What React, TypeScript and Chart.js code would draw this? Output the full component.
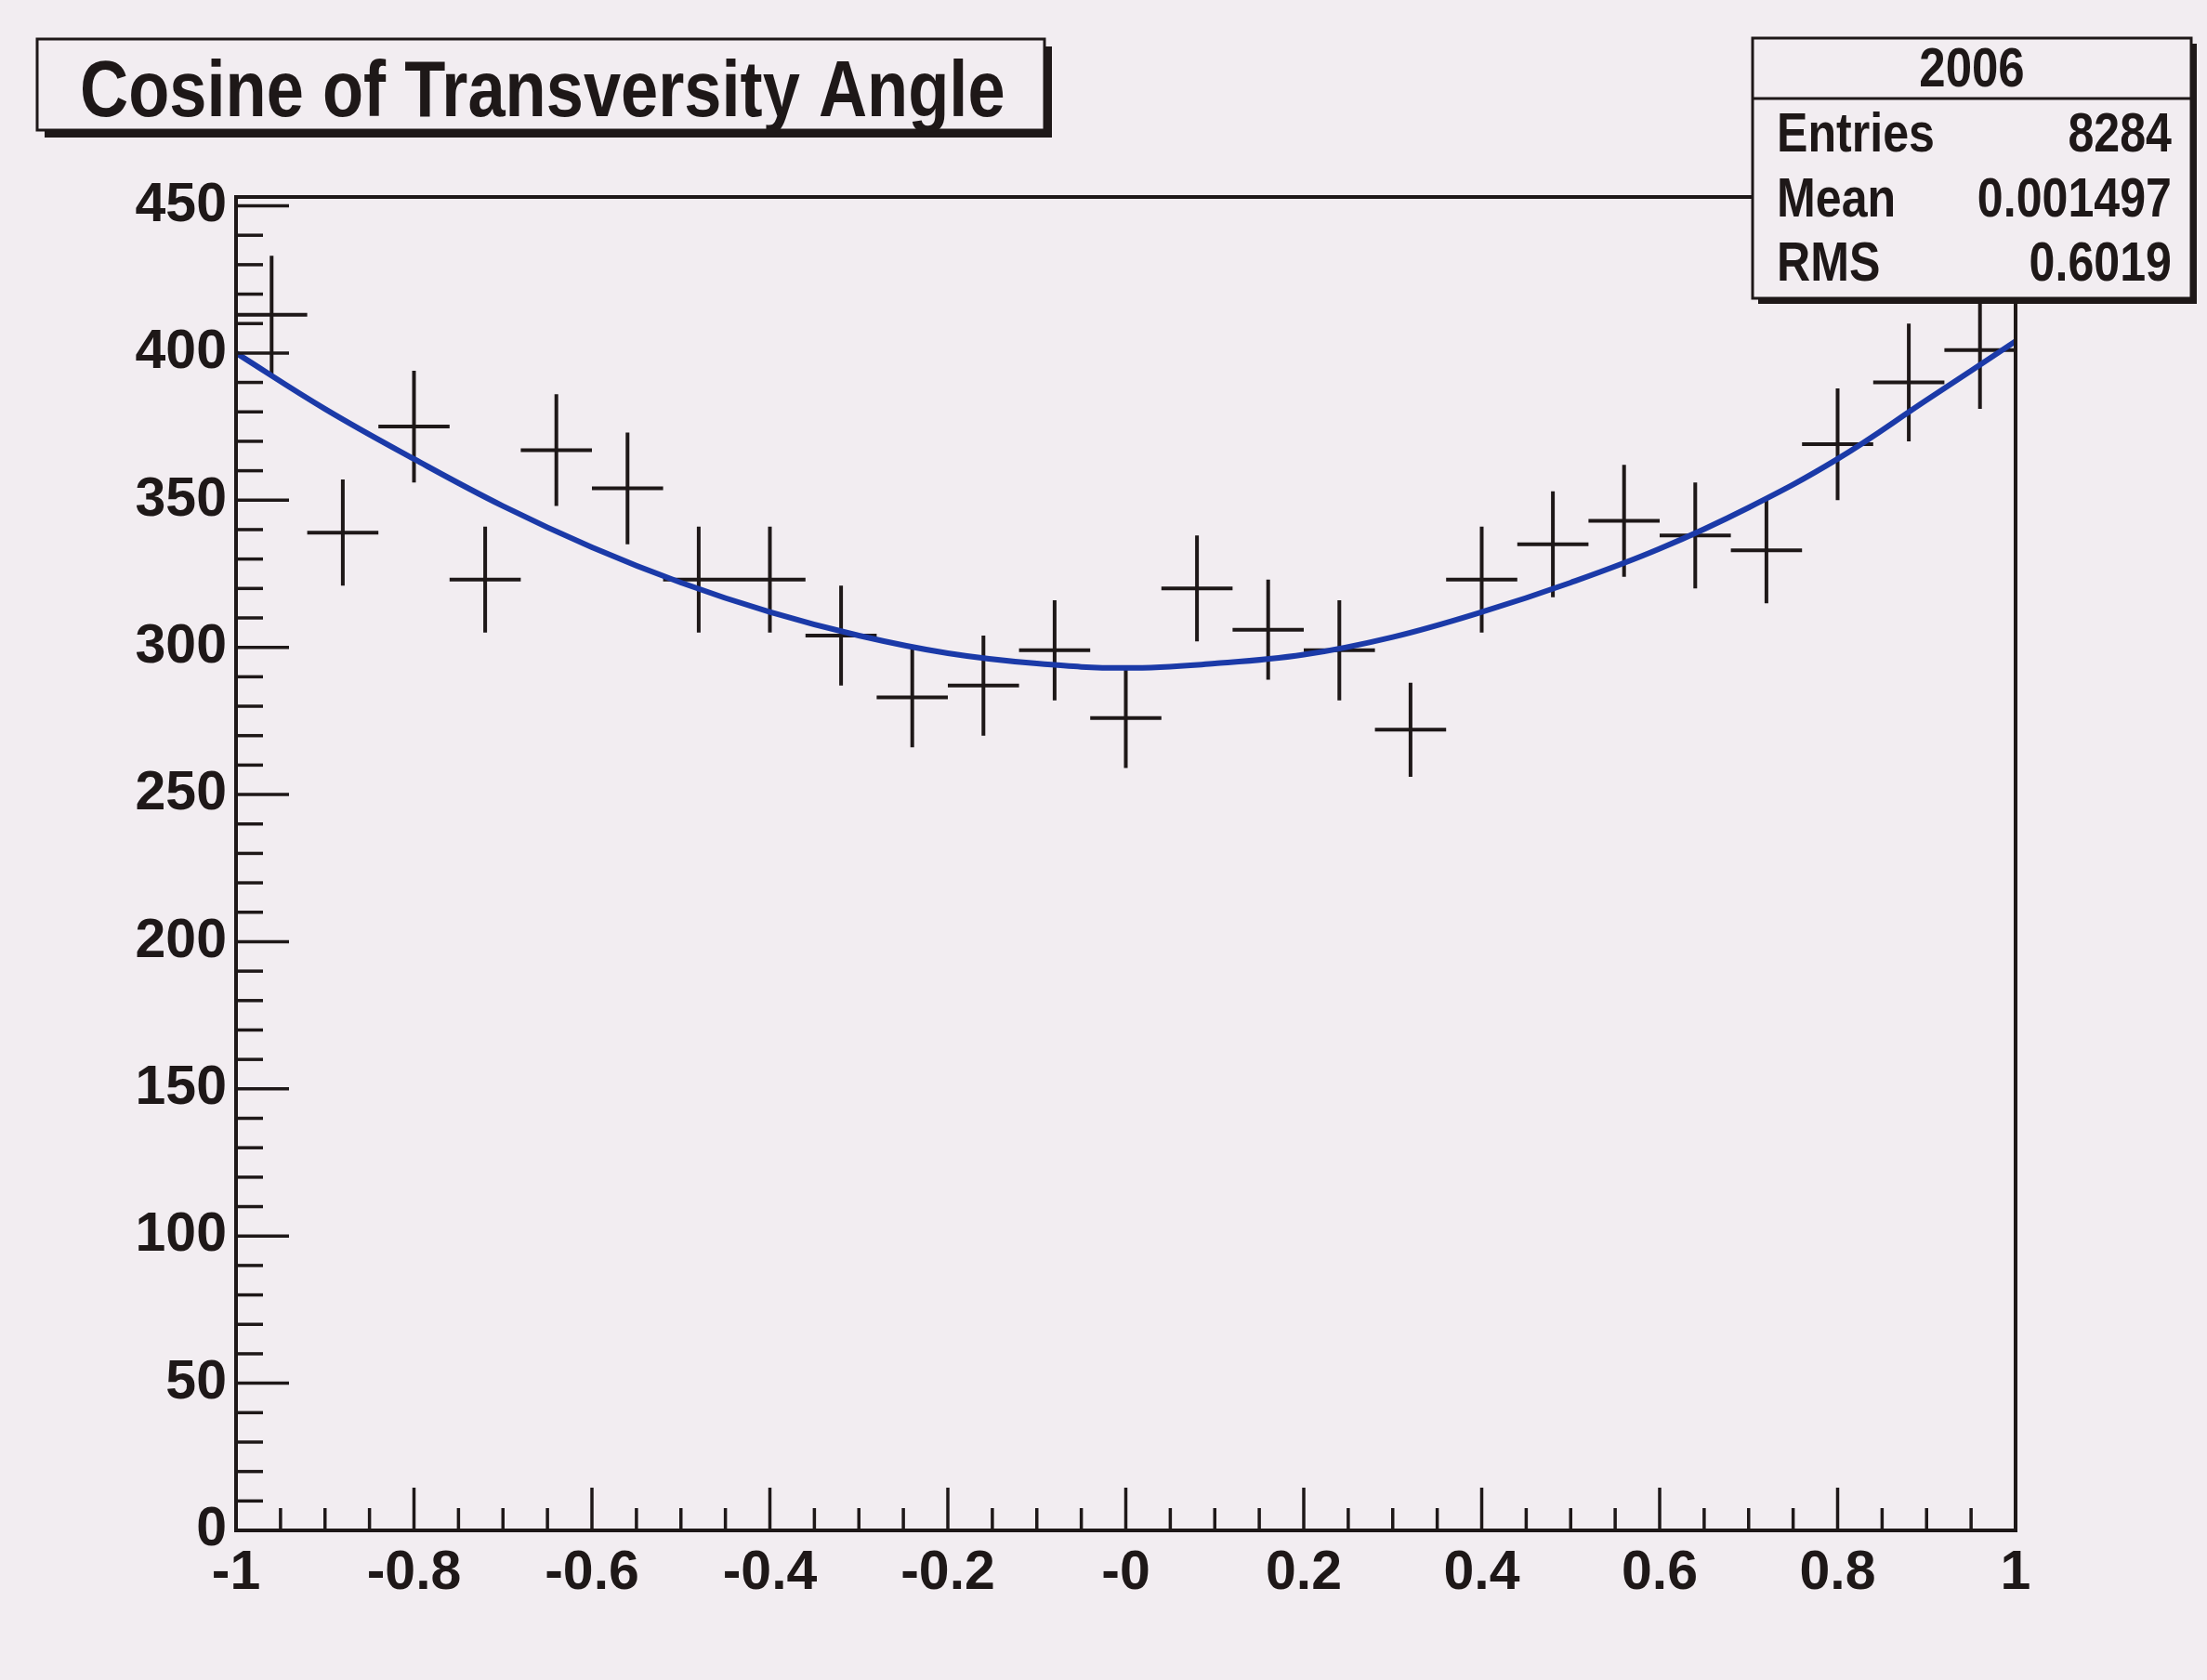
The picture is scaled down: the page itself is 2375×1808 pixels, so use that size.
import React, { useEffect, useRef } from 'react';
import { Chart, registerables } from 'chart.js';

Chart.register(...registerables);

// ---- data ----
const binCenters = [-0.96, -0.88, -0.8, -0.72, -0.64, -0.56, -0.48, -0.4, -0.32, -0.24, -0.16, -0.08, 0, 0.08, 0.16, 0.24, 0.32, 0.4, 0.48, 0.56, 0.64, 0.72, 0.8, 0.88, 0.96];
const binCounts = [413, 339, 375, 323, 367, 354, 323, 323, 304, 283, 287, 299, 276, 320, 306, 299, 272, 323, 335, 343, 338, 333, 369, 390, 401];
const binErrors = [20, 18, 19, 18, 19, 19, 18, 18, 17, 17, 17, 17, 17, 18, 17, 17, 16, 18, 18, 19, 18, 18, 19, 20, 20];
const binHalfWidth = 0.04;

const fitX = [-1, -0.9, -0.8, -0.7, -0.6, -0.5, -0.4, -0.3, -0.2, -0.1, 0, 0.1, 0.2, 0.3, 0.4, 0.5, 0.6, 0.7, 0.8, 0.9, 1];
const fitY = [400, 381, 364, 348, 334, 322, 312, 304, 298, 294.5, 293, 294.5, 297.5, 303.5, 312, 322, 333.5, 347.5, 364, 384, 404];

const xTickLabels = ['-1', '-0.8', '-0.6', '-0.4', '-0.2', '-0', '0.2', '0.4', '0.6', '0.8', '1'];
const yTickLabels = ['0', '50', '100', '150', '200', '250', '300', '350', '400', '450'];

const titleText = 'Cosine of Transversity Angle';
const statsTitle = '2006';
const statsNames = ['Entries', 'Mean', 'RMS'];
const statsValues = ['8284', '0.001497', '0.6019'];

// ---- styles ----
const BG = '#f2edf1';
const INK = '#1e1818';
const FIT = '#1b3aa8';
const FONT = '"Liberation Sans", Arial, sans-serif';

function condensedText(ctx: CanvasRenderingContext2D, text: string, x: number, y: number, size: number, align: 'left' | 'right' | 'center', sx: number) {
  ctx.save();
  ctx.font = `bold ${size}px ${FONT}`;
  ctx.textBaseline = 'middle';
  ctx.fillStyle = INK;
  const w = ctx.measureText(text).width * sx;
  let left = x;
  if (align === 'right') left = x - w;
  if (align === 'center') left = x - w / 2;
  ctx.translate(left, y);
  ctx.scale(sx, 1);
  ctx.textAlign = 'left';
  ctx.fillText(text, 0, 0);
  ctx.restore();
}

function paveBox(ctx: CanvasRenderingContext2D, x: number, y: number, w: number, h: number, shadow: number) {
  ctx.save();
  ctx.fillStyle = INK;
  ctx.fillRect(x + shadow, y + shadow, w, h);
  ctx.fillStyle = BG;
  ctx.fillRect(x, y, w, h);
  ctx.strokeStyle = INK;
  ctx.lineWidth = 3;
  ctx.strokeRect(x, y, w, h);
  ctx.restore();
}

const rootDecor = {
  id: 'rootDecor',
  beforeDraw(chart: any) {
    const { ctx, width, height } = chart;
    ctx.save();
    ctx.fillStyle = BG;
    ctx.fillRect(0, 0, width, height);
    ctx.restore();
  },
  afterDraw(chart: any) {
    const { ctx, chartArea: a, scales } = chart;
    const xs = scales.x;
    const ys = scales.y;
    ctx.save();
    ctx.strokeStyle = INK;
    ctx.lineWidth = 3.5;
    for (let v = 0; v <= 450 + 1e-6; v += 10) {
      const py = ys.getPixelForValue(v);
      const major = Math.abs(v % 50) < 1e-6;
      ctx.beginPath();
      ctx.moveTo(a.left, py);
      ctx.lineTo(a.left + (major ? 57 : 29), py);
      ctx.stroke();
    }
    for (let i = 0; i <= 40; i++) {
      const v = -1 + i * 0.05;
      const px = xs.getPixelForValue(v);
      const major = i % 4 === 0;
      ctx.beginPath();
      ctx.moveTo(px, a.bottom);
      ctx.lineTo(px, a.bottom - (major ? 46 : 24));
      ctx.stroke();
    }
    ctx.lineWidth = 4;
    ctx.strokeRect(a.left, a.top, a.right - a.left, a.bottom - a.top);
    ctx.restore();

    // title pave
    paveBox(ctx, 40, 42, 1084, 98, 8);
    condensedText(ctx, titleText, 86, 101, 86, 'left', 0.84);

    // stats pave
    const sx0 = 1886, sy0 = 41, sw = 472, sh = 280;
    paveBox(ctx, sx0, sy0, sw, sh, 6);
    ctx.save();
    ctx.strokeStyle = INK;
    ctx.lineWidth = 3;
    ctx.beginPath();
    ctx.moveTo(sx0, 106);
    ctx.lineTo(sx0 + sw, 106);
    ctx.stroke();
    ctx.restore();
    condensedText(ctx, statsTitle, sx0 + sw / 2, 76, 60, 'center', 0.85);
    const rowY = [147, 217, 286];
    statsNames.forEach((n, i) => {
      condensedText(ctx, n, 1912, rowY[i], 59, 'left', 0.85);
      condensedText(ctx, statsValues[i], 2337, rowY[i], 59, 'right', 0.85);
    });
  },
};

export default function App() {
  const ref = useRef<HTMLCanvasElement | null>(null);

  useEffect(() => {
    document.body.style.margin = '0';
    document.body.style.background = BG;
    const canvas = ref.current;
    if (!canvas) return;

    const tickFont = { family: FONT, weight: 'bold' as const, size: 59 };

    const crossData: { x: number; y: number | null }[] = [];
    binCenters.forEach((c, i) => {
      const v = binCounts[i];
      const e = binErrors[i];
      crossData.push({ x: c - binHalfWidth, y: v }, { x: c + binHalfWidth, y: v }, { x: c, y: null });
      crossData.push({ x: c, y: v - e }, { x: c, y: v + e }, { x: c, y: null });
    });
    const fitData = fitX.map((x, i) => ({ x, y: fitY[i] }));

    const chart = new Chart(canvas, {
      type: 'scatter',
      data: {
        datasets: [
          {
            label: 'fit',
            data: fitData,
            showLine: true,
            borderColor: FIT,
            borderWidth: 6,
            pointRadius: 0,
            tension: 0.4,
            fill: false,
          },
          {
            label: 'hist',
            data: crossData,
            showLine: true,
            spanGaps: false,
            borderColor: INK,
            borderWidth: 4,
            borderCapStyle: 'butt',
            pointRadius: 0,
            fill: false,
          },
        ],
      },
      options: {
        animation: false,
        responsive: false,
        maintainAspectRatio: false,
        devicePixelRatio: 1,
        layout: { padding: { left: 54, top: 212, right: 206, bottom: 61 } },
        plugins: { legend: { display: false }, tooltip: { enabled: false }, title: { display: false } },
        scales: {
          x: {
            type: 'linear',
            min: -1,
            max: 1,
            grid: { display: false, drawTicks: false },
            border: { display: false },
            ticks: {
              stepSize: 0.2,
              includeBounds: false,
              autoSkip: false,
              maxRotation: 0,
              padding: 11,
              color: INK,
              font: tickFont,
              callback: (_v: any, i: number) => xTickLabels[i] ?? '',
            },
            afterFit: (s: any) => {
              s.height = 100;
              s.paddingLeft = 0;
              s.paddingRight = 0;
            },
          },
          y: {
            type: 'linear',
            min: 0,
            max: 453,
            grid: { display: false, drawTicks: false },
            border: { display: false },
            ticks: {
              stepSize: 50,
              includeBounds: false,
              autoSkip: false,
              padding: 10,
              color: INK,
              font: tickFont,
              callback: (_v: any, i: number) => yTickLabels[i] ?? '',
            },
            afterFit: (s: any) => {
              s.width = 200;
              s.paddingTop = 0;
              s.paddingBottom = 0;
            },
          },
        },
      },
      plugins: [rootDecor],
    });

    return () => chart.destroy();
  }, []);

  return <canvas ref={ref} width={2375} height={1808} style={{ display: 'block', width: 2375, height: 1808 }} />;
}
